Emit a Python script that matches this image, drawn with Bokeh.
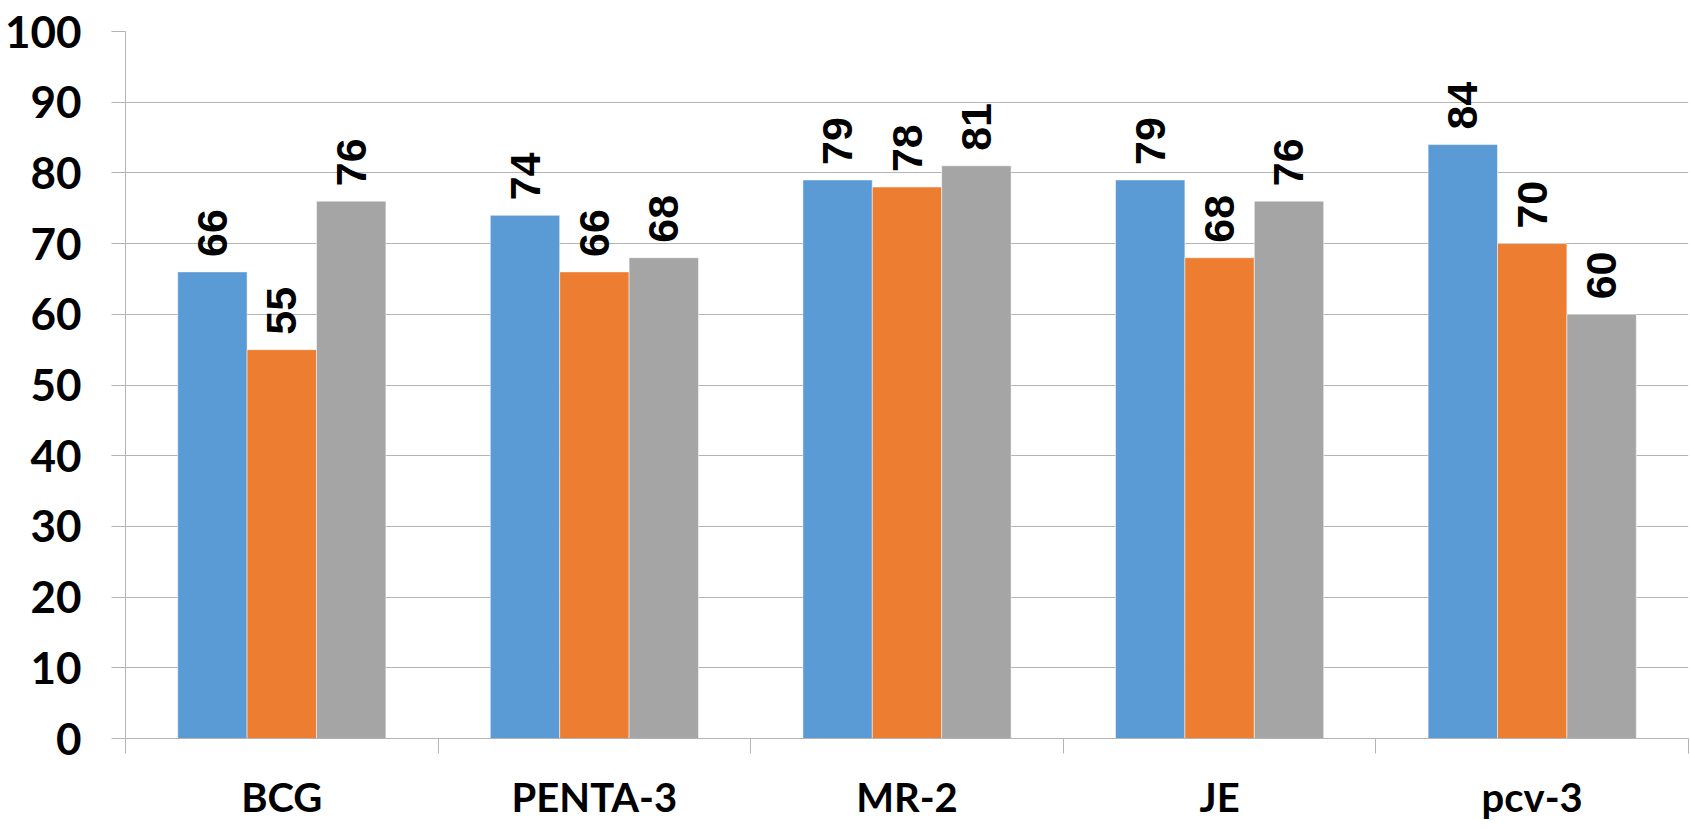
import math
from bokeh.plotting import figure
from bokeh.models import (ColumnDataSource, Range1d, LinearAxis, FixedTicker)
from bokeh.transform import dodge
from bokeh.core.properties import value
from bokeh.embed import file_html
from bokeh.resources import INLINE

# ---- data ----
categories = ["BCG", "PENTA-3", "MR-2", "JE", "pcv-3"]
series_1 = [66, 74, 79, 79, 84]
series_2 = [55, 66, 78, 68, 70]
series_3 = [76, 68, 81, 76, 60]
y_ticks = [0, 10, 20, 30, 40, 50, 60, 70, 80, 90, 100]

colors = ["#5B9BD5", "#ED7D31", "#A5A5A5"]
offsets = [-0.222, 0.0, 0.222]
bar_w = 0.222

n = len(categories)
centers = [i + 0.5 for i in range(n)]

src = ColumnDataSource(dict(
    xc=centers,
    s1=series_1, s2=series_2, s3=series_3,
    t1=[str(v) for v in series_1],
    t2=[str(v) for v in series_2],
    t3=[str(v) for v in series_3],
))

p = figure(width=1690, height=829, output_backend="svg", toolbar_location=None,
           x_range=Range1d(0, n), y_range=Range1d(0, 100),
           x_axis_location=None, y_axis_location=None,
           min_border_left=125, min_border_top=31, min_border_right=2,
           min_border_bottom=91)
p.outline_line_color = None
p.background_fill_color = "white"
p.border_fill_color = "white"

grid_col = "#b4b4b4"

# y axis
yax = LinearAxis(ticker=FixedTicker(ticks=y_ticks))
yax.axis_line_color = grid_col
yax.major_tick_line_color = grid_col
yax.major_tick_out = 14
yax.major_tick_in = 0
yax.minor_tick_line_color = None
yax.major_label_standoff = 30
yax.major_label_text_font = "Lato"
yax.major_label_text_font_style = "bold"
yax.major_label_text_font_size = "44px"
yax.major_label_text_color = "black"
p.add_layout(yax, "left")

# boundary ticks along category axis
tax = LinearAxis(ticker=FixedTicker(ticks=list(range(n + 1))))
tax.axis_line_color = grid_col
tax.major_tick_line_color = grid_col
tax.major_tick_out = 15
tax.major_tick_in = 0
tax.minor_tick_line_color = None
tax.major_label_text_font_size = "1px"
tax.major_label_text_alpha = 0
tax.major_label_standoff = 0
p.add_layout(tax, "below")

# category labels
cax = LinearAxis(ticker=FixedTicker(ticks=centers),
                 major_label_overrides={c: lab for c, lab in zip(centers, categories)})
cax.axis_line_color = None
cax.major_tick_line_color = None
cax.minor_tick_line_color = None
cax.major_label_standoff = 13
cax.major_label_text_font = "Lato"
cax.major_label_text_font_style = "bold"
cax.major_label_text_font_size = "40px"
cax.major_label_text_color = "black"
p.add_layout(cax, "below")

# grid
p.xgrid.grid_line_color = None
p.ygrid.ticker = FixedTicker(ticks=y_ticks)
p.ygrid.grid_line_color = grid_col
p.ygrid.grid_line_width = 1

for col, tcol, c, off in zip(["s1", "s2", "s3"], ["t1", "t2", "t3"], colors, offsets):
    xx = dodge("xc", off)
    p.vbar(x=xx, top=col, width=bar_w, bottom=0, source=src,
           fill_color=c, line_color="white", line_alpha=0.5, line_width=1)
    p.text(x=xx, y=col, text=tcol, source=src, angle=math.pi / 2,
           text_align="left", text_baseline="middle",
           x_offset=0, y_offset=-15,
           text_font=value("Liberation Sans"), text_font_style="bold",
           text_font_size="43px", text_color="black")

open("out.html", "w").write(file_html(p, INLINE))
